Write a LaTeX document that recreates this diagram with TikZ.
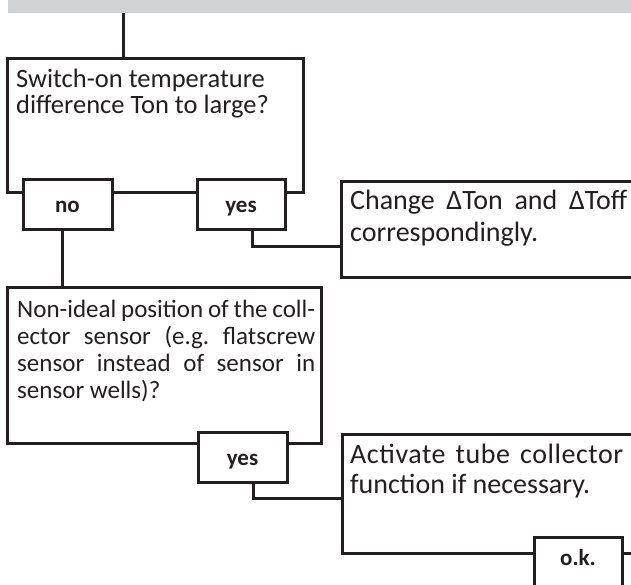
\documentclass[tikz,border=0pt]{standalone}
\usepackage{fontspec}
\setmainfont{Carlito}
\usetikzlibrary{fit}
\definecolor{ink}{HTML}{231F20}
\definecolor{barfill}{HTML}{D1D2D4}
\newcommand\jl[2]{\makebox[#1][s]{#2}}
\frenchspacing
\tikzset{
  qbox/.style={draw=ink, line width=3pt, inner sep=0pt, outer sep=0pt},
  tab/.style={draw=ink, fill=white, line width=3pt, inner sep=0pt, outer sep=0pt},
  lab/.style={anchor=base, inner sep=0pt, text=ink, font=\fontsize{23}{23}\selectfont\bfseries},
  wire/.style={draw=ink, line width=3pt},
  txt/.style={anchor=base west, inner sep=0pt, text=ink},
}
\begin{document}
\begin{tikzpicture}[x=1pt,y=-1pt]
\useasboundingbox (0,0) rectangle (631,584);
% grey bar
\node[fill=barfill, inner sep=0pt, outer sep=0pt, fit={(8,0)(640,13)}] (bar) {};
% boxes
\node[qbox, fit={(7,58)(303,192)}] (b1) {};
\node[qbox, fit={(341,181)(660,277)}] (b2) {};
\node[qbox, fit={(7,287)(321,443)}] (b3) {};
\node[qbox, fit={(342,434)(660,553)}] (b4) {};
% tabs
\node[tab, fit={(23,179)(112,229)}] (tno) {};
\node[tab, fit={(197,179)(285,229)}] (tyes) {};
\node[tab, fit={(198,432)(287,482)}] (tyes2) {};
\node[tab, fit={(534,537)(622,610)}] (tok) {};
% tab labels
\node[lab] (lno) at (67.5,212) {no};
\node[lab] (lyes) at (241,212) {yes};
\node[lab] (lyes2) at (242.5,465) {yes};
\node[lab] (lok) at (578,565) {o.k.};
% connectors
\coordinate (j0) at (123,13);
\draw[wire] (j0) -- (j0 |- b1.north);
\coordinate (j1) at (252,246);
\draw[wire] (tyes.south -| j1) -- (j1) -- (j1 -| b2.west);
\coordinate (j2) at (62,260);
\draw[wire] (tno.south -| j2) -- (j2 |- b3.north);
\coordinate (j3) at (253,498);
\draw[wire] (tyes2.south -| j3) -- (j3) -- (j3 -| b4.west);
% texts
\node[txt] (t1) at (16,87) {\parbox[t]{285pt}{\fontsize{26.5}{26.5}\selectfont
Switch-on temperature\\
difference Ton to large?}};
\node[txt] (t2) at (350,209) {\parbox[t]{285pt}{\fontsize{28}{32}\selectfont
\jl{277pt}{Change ΔTon and ΔToff}\\
correspondingly.}};
\node[txt] (t3) at (17,317) {\parbox[t]{305pt}{\fontsize{25}{27}\selectfont
\jl{298pt}{Non-ideal position of the coll-}\\
\jl{298pt}{ector sensor (e.g. flatscrew}\\
\jl{298pt}{sensor instead of sensor in}\\
sensor wells)?}};
\node[txt] (t4) at (350,463) {\parbox[t]{285pt}{\fontsize{28}{30}\selectfont
\jl{273pt}{\addfontfeature{LetterSpace=2}Activate tube collector}\\
function if necessary.}};
\end{tikzpicture}
\end{document}
